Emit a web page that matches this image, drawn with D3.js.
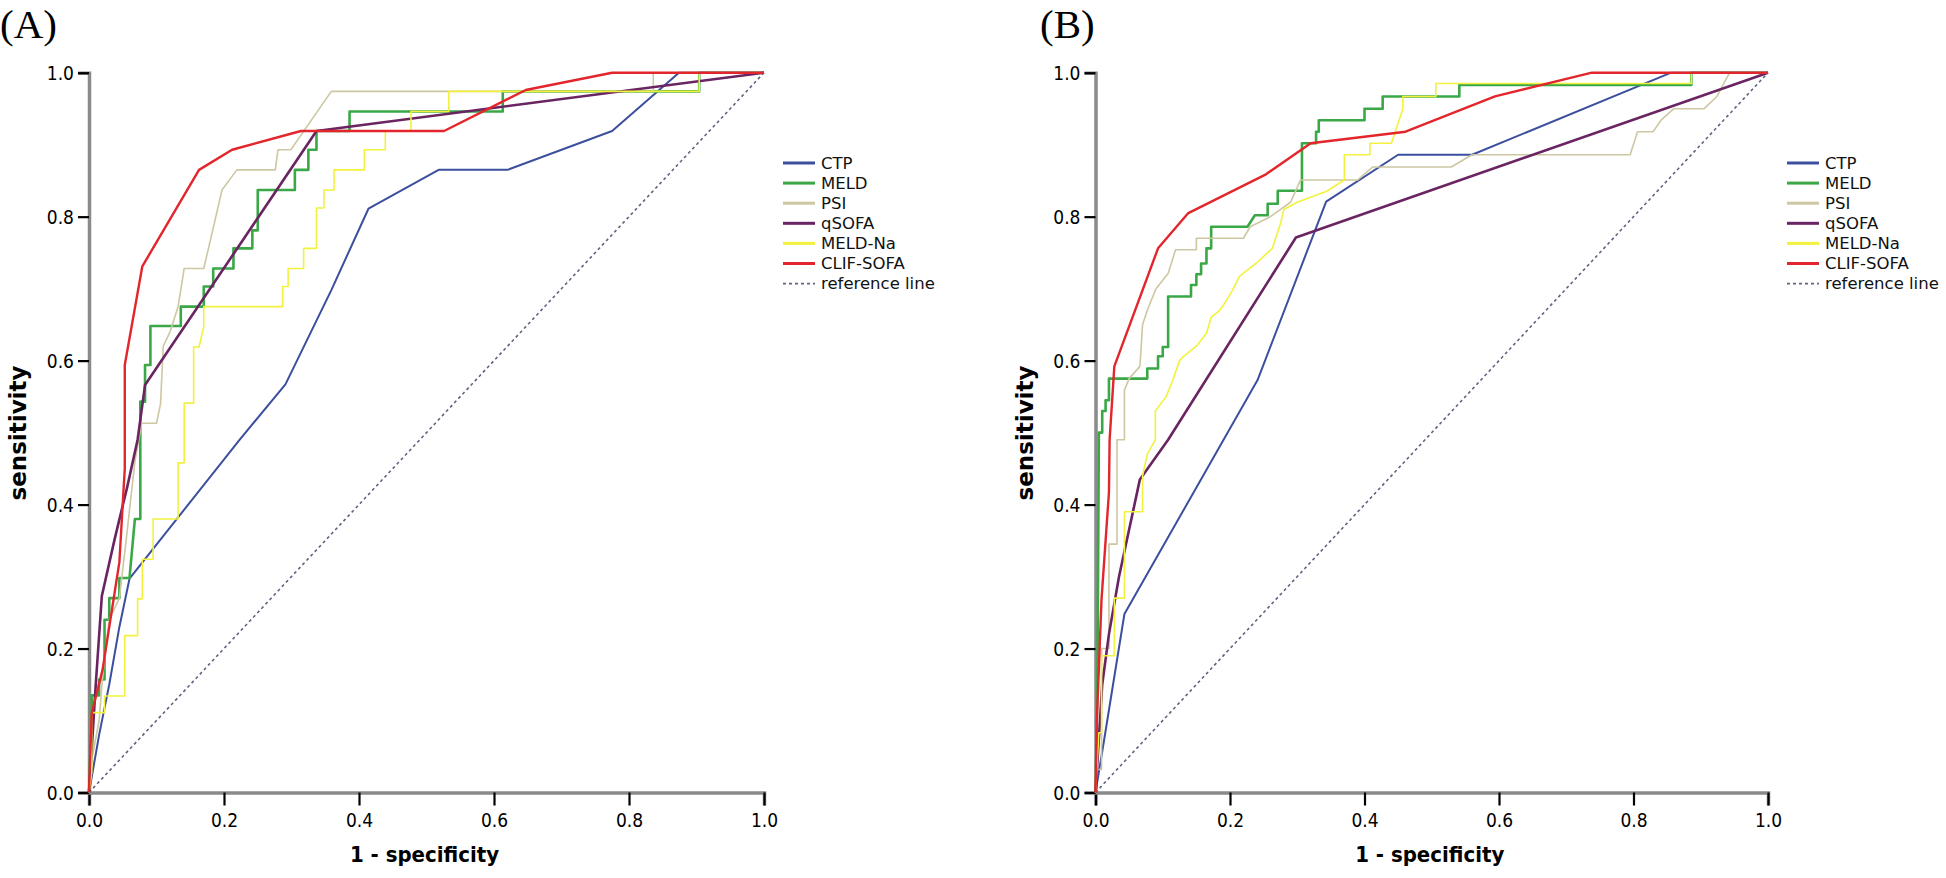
<!DOCTYPE html>
<html><head><meta charset="utf-8">
<script src="https://cdn.jsdelivr.net/npm/d3@7"></script>
<style>
html,body{margin:0;padding:0;background:#fff;}
svg{display:block;}
.tick text{font-family:"DejaVu Sans",sans-serif;font-stretch:condensed;font-size:19px;fill:#000;}
</style></head>
<body>
<svg id="chart" width="1946" height="878"></svg>
<script>
// ---------- data ----------
const seriesNames = ["CTP","MELD","PSI","qSOFA","MELD-Na","CLIF-SOFA"];
const refName = "reference line";
const panelLabels = ["(A)","(B)"];
const xTicks = [0,0.2,0.4,0.6,0.8,1.0];
const yTicks = [0,0.2,0.4,0.6,0.8,1.0];
const xTitle = "1 - specificity";
const yTitle = "sensitivity";

// Panel A  [1 - specificity, sensitivity]
const ctpA = [[0,0],[0.015,0.08],[0.03,0.15],[0.045,0.23],[0.06,0.297],[0.223,0.49],[0.291,0.567],[0.359,0.698],[0.414,0.811],[0.518,0.865],[0.62,0.865],[0.775,0.919],[0.874,1],[1,1]];
const meldA = [[0,0],[0.004,0.11],[0.004,0.135],[0.015,0.135],[0.015,0.157],[0.023,0.157],[0.023,0.24],[0.03,0.24],[0.03,0.27],[0.045,0.27],[0.045,0.298],[0.06,0.298],[0.068,0.38],[0.076,0.38],[0.076,0.543],[0.083,0.543],[0.083,0.568],[0.083,0.594],[0.091,0.594],[0.091,0.648],[0.136,0.648],[0.136,0.675],[0.170,0.675],[0.170,0.703],[0.184,0.703],[0.184,0.728],[0.214,0.728],[0.214,0.756],[0.242,0.756],[0.242,0.781],[0.25,0.781],[0.25,0.837],[0.305,0.837],[0.305,0.865],[0.325,0.865],[0.325,0.893],[0.337,0.893],[0.337,0.919],[0.386,0.919],[0.386,0.946],[0.613,0.946],[0.613,0.974],[0.904,0.974],[0.904,1],[1,1]];
const psiA = [[0,0],[0.005,0.05],[0.015,0.1],[0.02,0.16],[0.03,0.24],[0.045,0.27],[0.055,0.35],[0.068,0.46],[0.078,0.513],[0.1,0.513],[0.106,0.54],[0.11,0.62],[0.12,0.64],[0.132,0.675],[0.141,0.728],[0.17,0.728],[0.184,0.784],[0.197,0.837],[0.219,0.865],[0.276,0.865],[0.28,0.893],[0.299,0.893],[0.359,0.974],[0.836,0.974],[0.836,1],[1,1]];
const qsofaA = [[0,0],[0.01,0.15],[0.019,0.273],[0.038,0.352],[0.057,0.426],[0.072,0.49],[0.083,0.566],[0.337,0.919],[1,1]];
const meldNaA = [[0,0],[0.004,0.028],[0.004,0.111],[0.023,0.111],[0.023,0.134],[0.053,0.134],[0.053,0.218],[0.072,0.218],[0.072,0.269],[0.079,0.269],[0.079,0.324],[0.095,0.324],[0.095,0.38],[0.132,0.38],[0.132,0.458],[0.141,0.458],[0.141,0.541],[0.155,0.541],[0.155,0.619],[0.163,0.619],[0.17,0.647],[0.17,0.675],[0.287,0.675],[0.287,0.703],[0.295,0.703],[0.295,0.728],[0.318,0.728],[0.318,0.756],[0.337,0.756],[0.337,0.812],[0.348,0.812],[0.348,0.837],[0.363,0.837],[0.363,0.865],[0.408,0.865],[0.408,0.893],[0.439,0.893],[0.439,0.919],[0.477,0.919],[0.477,0.946],[0.533,0.946],[0.533,0.974],[0.904,0.974],[0.904,1],[1,1]];
const clifSofaA = [[0,0],[0.004,0.11],[0.02,0.17],[0.045,0.32],[0.053,0.45],[0.053,0.594],[0.079,0.731],[0.163,0.865],[0.212,0.893],[0.314,0.919],[0.526,0.919],[0.647,0.976],[0.775,1],[1,1]];

// Panel B
const ctpB = [[0,0],[0.013,0.074],[0.043,0.248],[0.241,0.573],[0.343,0.821],[0.45,0.886],[0.56,0.886],[0.856,1],[1,1]];
const meldB = [[0,0],[0.002,0.1],[0.003,0.17],[0.005,0.5],[0.01,0.5],[0.01,0.53],[0.015,0.53],[0.015,0.545],[0.02,0.545],[0.02,0.575],[0.077,0.575],[0.077,0.589],[0.093,0.589],[0.093,0.606],[0.1,0.606],[0.1,0.619],[0.108,0.619],[0.108,0.689],[0.142,0.689],[0.142,0.705],[0.15,0.705],[0.15,0.72],[0.157,0.72],[0.157,0.735],[0.165,0.735],[0.165,0.756],[0.172,0.756],[0.172,0.786],[0.226,0.786],[0.237,0.802],[0.256,0.802],[0.256,0.818],[0.271,0.818],[0.271,0.836],[0.307,0.836],[0.307,0.902],[0.328,0.902],[0.328,0.918],[0.332,0.918],[0.332,0.934],[0.4,0.934],[0.4,0.95],[0.427,0.95],[0.427,0.967],[0.541,0.967],[0.541,0.983],[0.886,0.983],[0.886,1],[1,1]];
const psiB = [[0,0],[0,0.032],[0.009,0.032],[0.009,0.2],[0.02,0.2],[0.02,0.345],[0.032,0.345],[0.032,0.49],[0.043,0.49],[0.043,0.559],[0.05,0.575],[0.066,0.592],[0.07,0.65],[0.077,0.67],[0.09,0.7],[0.108,0.721],[0.119,0.754],[0.15,0.754],[0.15,0.77],[0.22,0.77],[0.23,0.786],[0.26,0.8],[0.29,0.82],[0.305,0.851],[0.39,0.851],[0.412,0.869],[0.529,0.869],[0.56,0.886],[0.795,0.886],[0.806,0.918],[0.829,0.918],[0.841,0.934],[0.86,0.95],[0.905,0.95],[0.924,0.967],[0.943,1],[1,1]];
const qsofaB = [[0,0],[0.01,0.15],[0.02,0.22],[0.035,0.3],[0.066,0.435],[0.108,0.49],[0.298,0.771],[1,1]];
const meldNaB = [[0,0],[0.005,0.083],[0.009,0.083],[0.009,0.19],[0.028,0.19],[0.028,0.27],[0.043,0.27],[0.043,0.39],[0.07,0.39],[0.07,0.44],[0.077,0.47],[0.089,0.49],[0.089,0.53],[0.105,0.55],[0.115,0.573],[0.125,0.6],[0.131,0.606],[0.15,0.62],[0.165,0.638],[0.172,0.66],[0.185,0.67],[0.195,0.684],[0.205,0.7],[0.214,0.717],[0.241,0.737],[0.263,0.756],[0.275,0.79],[0.28,0.81],[0.3,0.82],[0.343,0.835],[0.37,0.851],[0.37,0.886],[0.408,0.886],[0.408,0.902],[0.44,0.902],[0.45,0.93],[0.457,0.95],[0.457,0.967],[0.506,0.967],[0.506,0.985],[0.886,0.985],[0.886,1],[1,1]];
const clifSofaB = [[0,0],[0.002,0.1],[0.009,0.269],[0.02,0.417],[0.021,0.49],[0.028,0.592],[0.093,0.756],[0.138,0.805],[0.252,0.858],[0.32,0.902],[0.461,0.918],[0.594,0.967],[0.738,1],[1,1]];

const refLine = [[0,0],[1,1]];

// ---------- styles ----------
const colors = ["#3c4f9e","#3aa847","#cdc7a2","#6a2461","#f2f23e","#e2262c"];
const widths = [2,2.6,1.6,2.6,1.6,2.4];
const refColor = "#5f6480";

const panels = [
  {label: panelLabels[0], series:[ctpA,meldA,psiA,qsofaA,meldNaA,clifSofaA], x0:89, x1:764, labelX:0, legendX:783},
  {label: panelLabels[1], series:[ctpB,meldB,psiB,qsofaB,meldNaB,clifSofaB], x0:1095.5, x1:1768, labelX:1040, legendX:1787}
];
const yTop = 72.7, yBot = 792.5;

const svg = d3.select("#chart");

panels.forEach(p => {
  const g = svg.append("g");
  const x = d3.scaleLinear().domain([0,1]).range([p.x0,p.x1]);
  const y = d3.scaleLinear().domain([0,1]).range([yBot,yTop]);

  // panel label
  g.append("text").attr("x", p.labelX).attr("y", 38)
    .style("font-family","'Liberation Serif','Times New Roman',serif")
    .style("font-size","41px").attr("fill","#000").text(p.label);

  // axes
  const xa = g.append("g").attr("transform",`translate(0,${yBot})`)
    .call(d3.axisBottom(x).tickValues(xTicks).tickFormat(d3.format(".1f")).tickSize(13).tickPadding(4));
  const ya = g.append("g").attr("transform",`translate(${p.x0},0)`)
    .call(d3.axisLeft(y).tickValues(yTicks).tickFormat(d3.format(".1f")).tickSize(11).tickPadding(4));
  [xa,ya].forEach(a=>{
    a.select(".domain").attr("stroke","#8a8a8a").attr("stroke-width",3.5);
    a.selectAll(".tick line").attr("stroke","#000").attr("stroke-width",2.2);
  });
  xa.selectAll(".tick text").attr("dy","0.9em");
  ya.selectAll(".tick text").attr("dy","0.35em");

  // axis titles
  g.append("text").attr("x",(p.x0+p.x1)/2 - 2).attr("y",862).attr("text-anchor","middle")
    .style("font-family","'DejaVu Sans',sans-serif").style("font-stretch","condensed")
    .style("font-weight","bold").style("font-size","22px").text(xTitle);
  g.append("text").attr("transform",`translate(${p.x0-63},433) rotate(-90)`).attr("text-anchor","middle")
    .style("font-family","'DejaVu Sans',sans-serif")
    .style("font-weight","bold").style("font-size","23px").text(yTitle);

  const line = d3.line().x(d=>x(d[0])).y(d=>y(d[1]));

  // reference line
  g.append("path").datum(refLine).attr("d",line).attr("fill","none")
    .attr("stroke",refColor).attr("stroke-width",1.6).attr("stroke-dasharray","3,3");

  // curves
  p.series.forEach((s,i)=>{
    g.append("path").datum(s).attr("d",line).attr("fill","none")
      .attr("stroke",colors[i]).attr("stroke-width",widths[i]).attr("stroke-linejoin","round");
  });

  // legend
  const leg = g.append("g").attr("transform",`translate(${p.legendX},163)`);
  const names = seriesNames.concat([refName]);
  names.forEach((n,i)=>{
    const row = leg.append("g").attr("transform",`translate(0,${i*20.1})`);
    const ln = row.append("line").attr("x1",0).attr("x2",32).attr("y1",0).attr("y2",0)
      .attr("stroke", i<6 ? colors[i] : refColor).attr("stroke-width", i<6 ? 3 : 1.8);
    if (i===6) ln.attr("stroke-dasharray","3,3");
    row.append("text").attr("x",38).attr("y",0).attr("dy","0.35em")
      .style("font-family","'DejaVu Sans',sans-serif").style("font-size","16.5px").attr("fill","#111").text(n);
  });
});
</script>
</body></html>
